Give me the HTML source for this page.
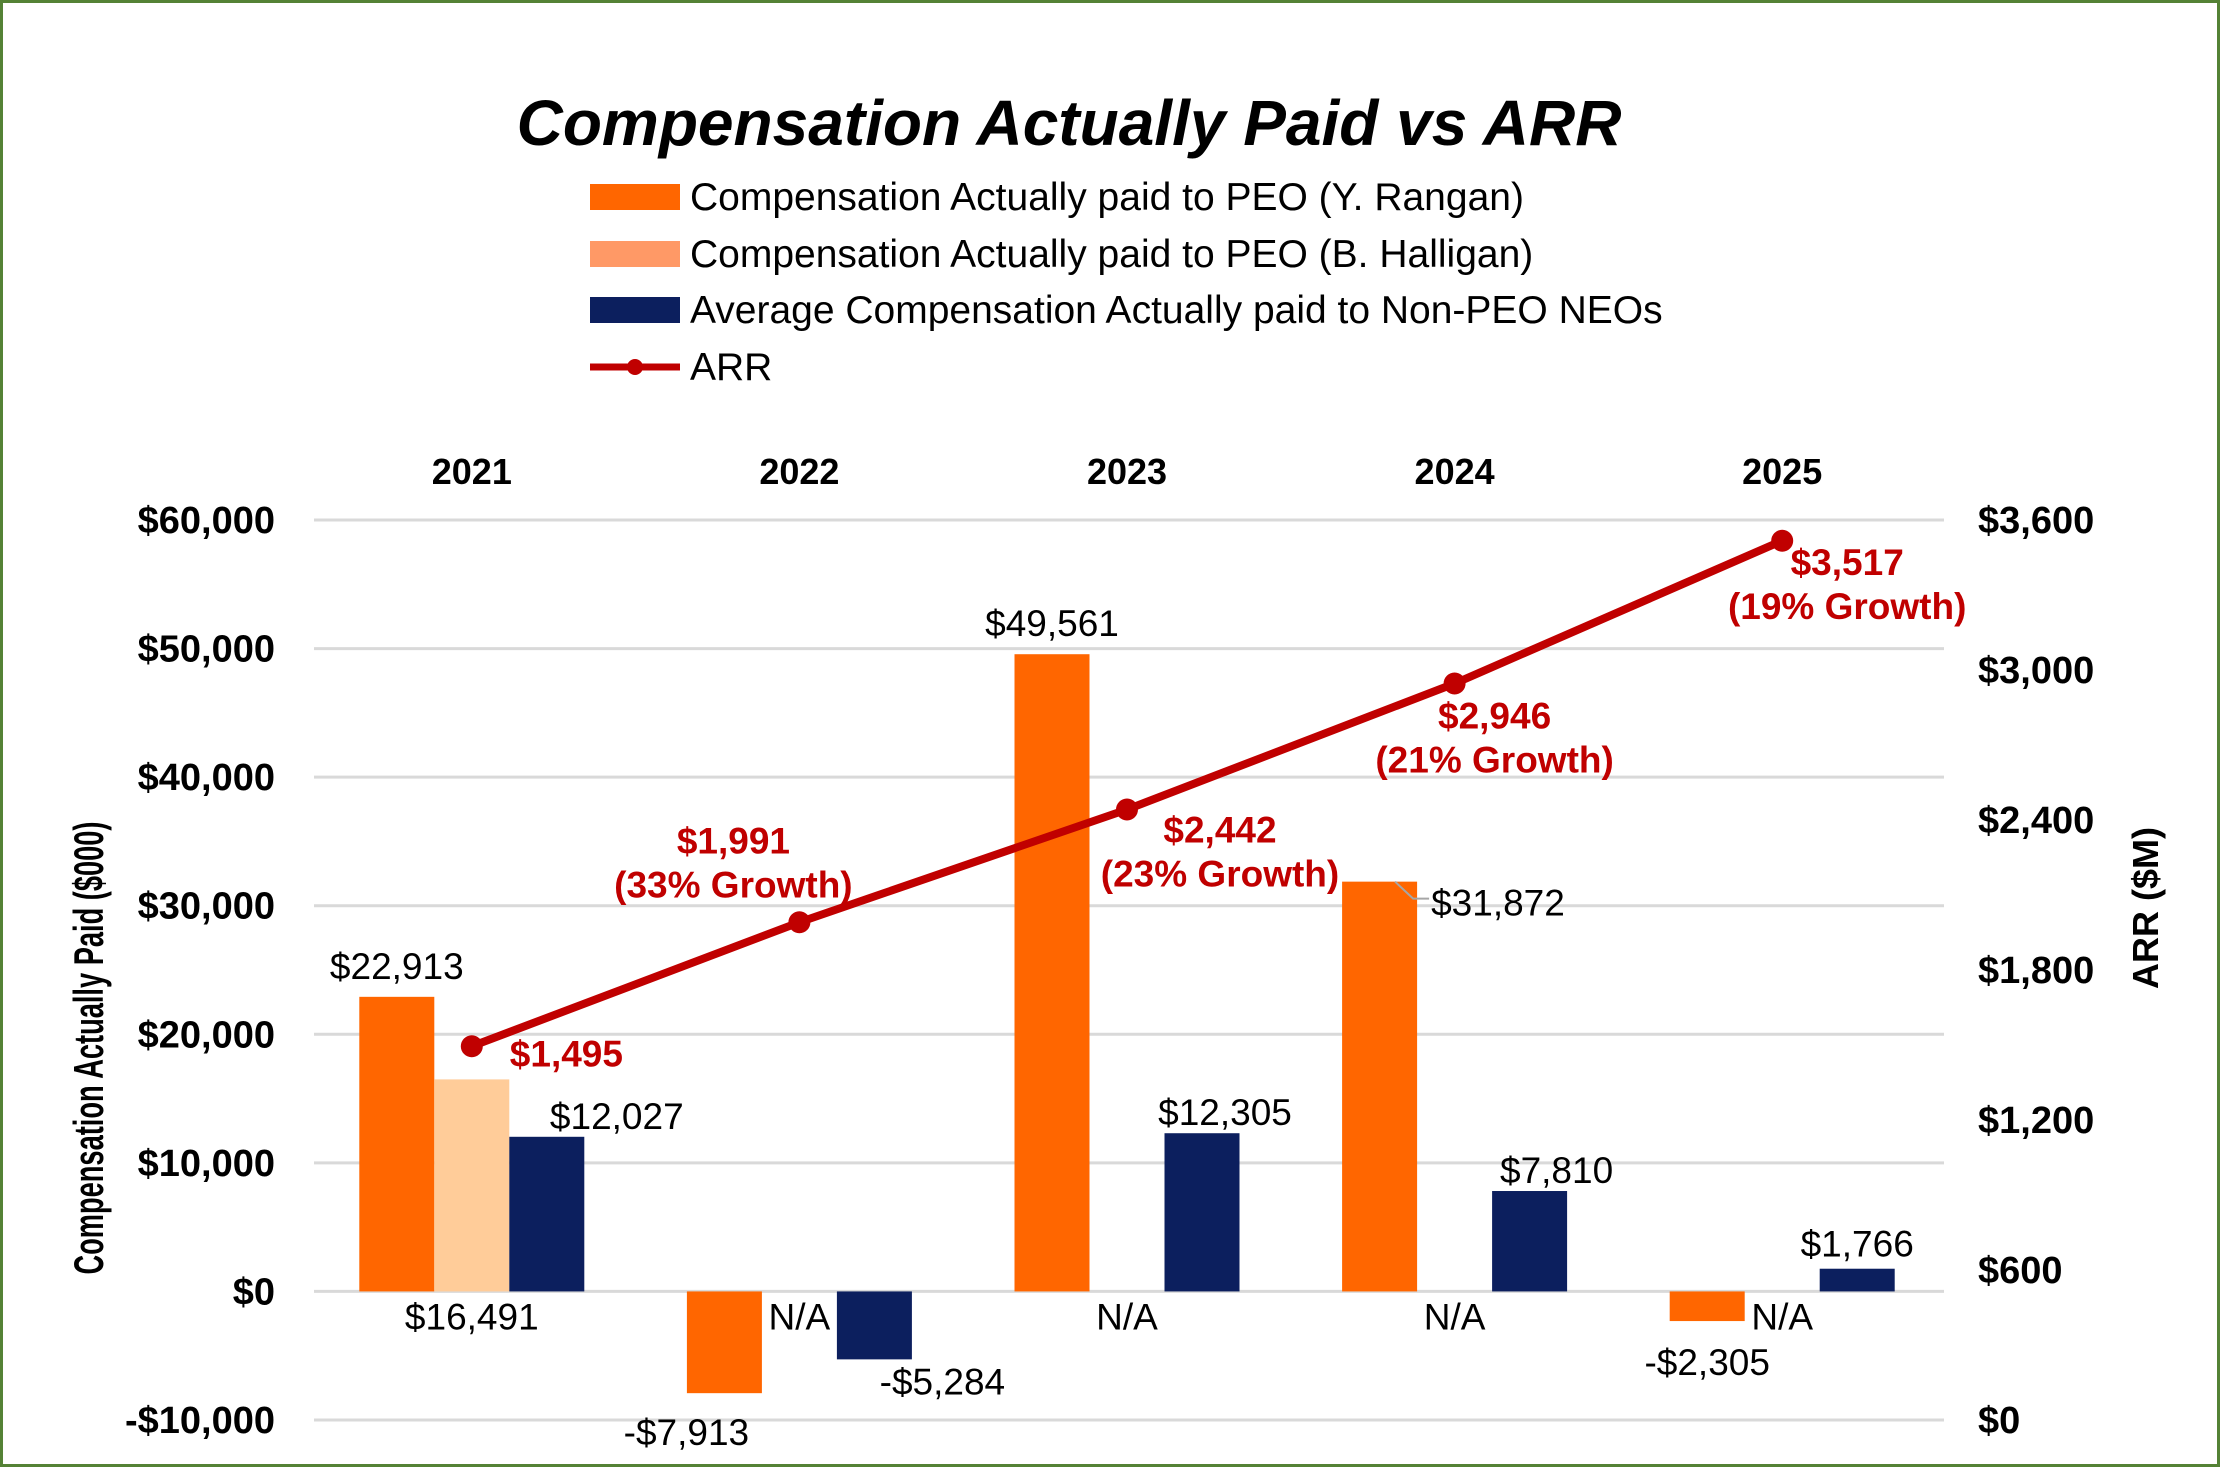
<!DOCTYPE html>
<html><head><meta charset="utf-8"><style>
body{margin:0;background:#fff}
svg{display:block;font-family:"Liberation Sans",Arial,sans-serif}
</style></head><body>
<svg id="chart" width="2220" height="1467" viewBox="0 0 2220 1467" xmlns="http://www.w3.org/2000/svg">
<rect x="1.5" y="1.5" width="2217" height="1464" fill="#fff" stroke="#548235" stroke-width="3"/>
<text x="1069" y="145" text-anchor="middle" font-size="64" font-weight="bold" font-style="italic">Compensation Actually Paid vs ARR</text>
<g id="legend" font-size="39">
<rect x="590" y="184" width="90" height="26" fill="#ff6600"/>
<text x="690" y="210">Compensation Actually paid to PEO (Y. Rangan)</text>
<rect x="590" y="241" width="90" height="26" fill="#ff9966"/>
<text x="690" y="267">Compensation Actually paid to PEO (B. Halligan)</text>
<rect x="590" y="297" width="90" height="26" fill="#0c1f5e"/>
<text x="690" y="323">Average Compensation Actually paid to Non-PEO NEOs</text>
<line x1="590" y1="367" x2="680" y2="367" stroke="#c00000" stroke-width="7"/>
<circle cx="635" cy="367" r="8" fill="#c00000"/>
<text x="690" y="380">ARR</text>
</g>
<g id="grid"></g><g id="axes"></g><g id="bars"></g><g id="line"></g><g id="labels"></g>
<text transform="translate(103,1048) rotate(-90)" text-anchor="middle" font-size="42" font-weight="bold" textLength="453" lengthAdjust="spacingAndGlyphs">Compensation Actually Paid ($000)</text>
<text transform="translate(2158,908) rotate(-90)" text-anchor="middle" font-size="36" font-weight="bold">ARR ($M)</text>
</svg>
<script>
const categories = ["2021","2022","2023","2024","2025"];
const rangan = [22913, -7913, 49561, 31872, -2305];
const halligan = [16491, null, null, null, null];
const neos = [12027, -5284, 12305, 7810, 1766];
const arr = [1495, 1991, 2442, 2946, 3517];
const arrGrowth = ["", "33% Growth", "23% Growth", "21% Growth", "19% Growth"];
const leftTicks = [-10000, 0, 10000, 20000, 30000, 40000, 50000, 60000];
const rightTicks = [0, 600, 1200, 1800, 2400, 3000, 3600];

const NS = "http://www.w3.org/2000/svg";
const L = 308, R = 1946, TOP = 520, BOT = 1420;
const yL = v => BOT - (v + 10000) / 70000 * (BOT - TOP);
const yR = v => BOT - v / 3600 * (BOT - TOP);
const bw = (R - L) / categories.length;
const xC = i => L + bw * (i + 0.5);
const barW = 75;
const FS = 37;
const fmt = v => (v < 0 ? "-$" : "$") + Math.abs(v).toLocaleString("en-US");
function mk(tag, attrs, parent, text) {
  const e = document.createElementNS(NS, tag);
  for (const k in attrs) e.setAttribute(k, attrs[k]);
  if (text !== undefined) e.textContent = text;
  document.getElementById(parent).appendChild(e);
  return e;
}
leftTicks.forEach(t => {
  const g = mk("line", {x1: 314, x2: 1944, y1: yL(t), y2: yL(t), stroke: "#d9d9d9", "stroke-width": 3}, "grid");
  
  
  const tx = mk("text", {x: 275, y: yL(t) + 13, "text-anchor": "end", "font-size": 38, "font-weight": "bold"}, "axes", fmt(t));
  
  
});
rightTicks.forEach(t => {
  const tx = mk("text", {x: 1978, y: yR(t) + 13, "font-size": 38, "font-weight": "bold"}, "axes", fmt(t));
  
  
});
categories.forEach((c, i) => {
  const tx = mk("text", {x: xC(i), y: 484, "text-anchor": "middle", "font-size": 36, "font-weight": "bold"}, "axes", c);
  
  
});
const series = [[rangan, "#ff6600", -1], [halligan, "#ffcc99", 0], [neos, "#0c1f5e", 1]];
const z = yL(0);
categories.forEach((c, i) => {
  series.forEach(([vals, col, off], s) => {
    const v = vals[i];
    const bx = xC(i) + off * barW - barW / 2;
    const cx = bx + barW / 2;
    if (v === null) {
      const na = mk("text", {x: cx, y: z + 38, "text-anchor": "middle", "font-size": FS}, "labels", "N/A");
      
      
      return;
    }
    const y = yL(v);
    const b = mk("rect", {x: bx, y: Math.min(y, z), width: barW, height: Math.abs(z - y), fill: col}, "bars");
    
    
    let lx = cx, ly, anchor = "middle";
    if (s === 1) { ly = z + 38; }
    else if (v < 0) {
      if (s === 0) { ly = y + 52; lx = cx - (i === 1 ? 38 : 0); if (i === 4) ly = y + 54; }
      else { ly = y + 35; lx = cx + 68; }
    } else {
      if (s === 0) { ly = y - 18; }
      else { ly = y - 8; lx = cx + (i === 0 ? 70 : i === 2 ? 23 : i === 3 ? 27 : 0); if (i === 4) ly = y - 12; }
    }
    if (s === 0 && i === 3) { lx = bx + barW + 14; ly = y + 34; anchor = "start";
      const ld = mk("polyline", {points: `${bx + barW - 22},${y} ${bx + barW - 4},${y + 17} ${bx + barW + 12},${y + 17}`, fill: "none", stroke: "#a6a6a6", "stroke-width": 2}, "labels");
      
      
    }
    const t = mk("text", {x: lx, y: ly, "text-anchor": anchor, "font-size": FS}, "labels", fmt(v));
    
    
  });
});
const pts = arr.map((v, i) => xC(i) + "," + yR(v)).join(" ");
const pl = mk("polyline", {points: pts, fill: "none", stroke: "#c00000", "stroke-width": 8}, "line");


const lblOff = [[0,0,0],[-66,-66,-69],[93,93,33],[40,40,45],[65,65,34]];
arr.forEach((v, i) => {
  const p = mk("circle", {cx: xC(i), cy: yR(v), r: 11, fill: "#c00000"}, "line");
  
  
  if (i === 0) {
    const t = mk("text", {x: xC(i) + 38, y: yR(v) + 20, "font-size": FS, "font-weight": "bold", fill: "#c00000"}, "labels", fmt(v));
    
    
    return;
  }
  const cy = yR(v) + lblOff[i][2];
  const t1 = mk("text", {x: xC(i) + lblOff[i][0], y: cy, "text-anchor": "middle", "font-size": FS, "font-weight": "bold", fill: "#c00000"}, "labels", fmt(v));
  
  
  const t2 = mk("text", {x: xC(i) + lblOff[i][1], y: cy + 44, "text-anchor": "middle", "font-size": FS, "font-weight": "bold", fill: "#c00000"}, "labels", "(" + arrGrowth[i] + ")");
  
  
});
</script>
</body></html>
